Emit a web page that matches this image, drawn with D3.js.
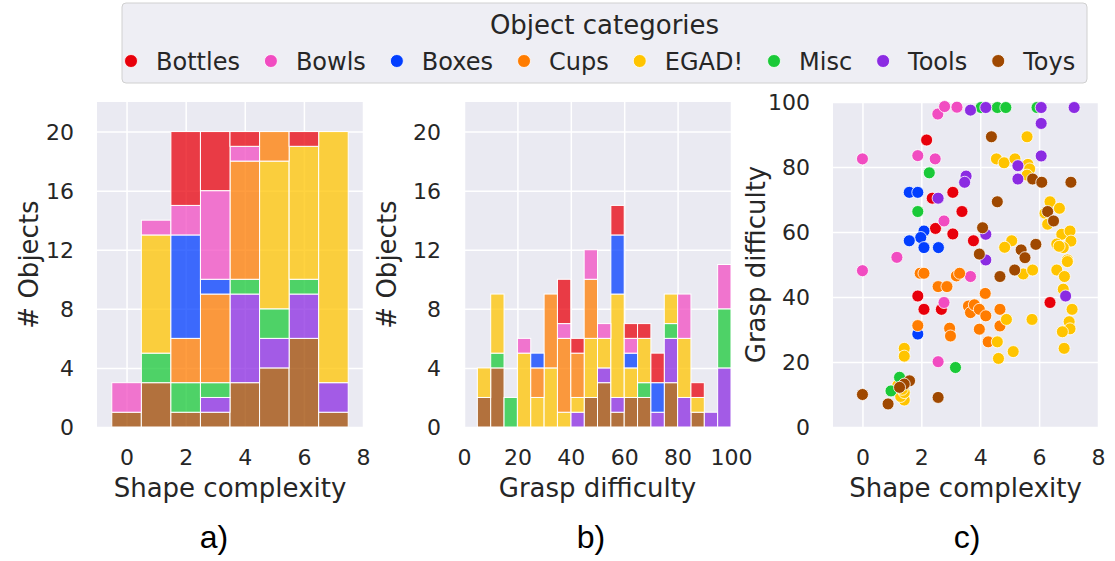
<!DOCTYPE html>
<html>
<head>
<meta charset="utf-8">
<script src="https://cdnjs.cloudflare.com/ajax/libs/d3/7.8.5/d3.min.js"></script>
<style>
  body { margin: 0; background: #fff; }
  text { font-family: 'DejaVu Sans', sans-serif; fill: #262626; }
</style>
</head>
<body>
<svg id="chart" width="1115" height="561"></svg>
<script>

var categories = ['Bottles', 'Bowls', 'Boxes', 'Cups', 'EGAD!', 'Misc', 'Tools', 'Toys']
var colors = ['#e8000b', '#f14cc1', '#023eff', '#ff7c00', '#ffc400', '#1ac938', '#8b2be2', '#9f4800']

// a) shape complexity, one bin per integer 0..7
var shapeBins = [0, 1, 2, 3, 4, 5, 6, 7]
var shapeCounts = [
  [0, 0, 5, 4, 1, 0, 1, 0],   // Bottles
  [2, 1, 2, 6, 1, 0, 0, 0],   // Bowls
  [0, 0, 7, 1, 0, 0, 0, 0],   // Boxes
  [0, 0, 3, 6, 8, 2, 0, 0],   // Cups
  [0, 8, 0, 0, 0, 10, 9, 17], // EGAD!
  [0, 2, 2, 1, 1, 2, 1, 0],   // Misc
  [0, 0, 0, 1, 6, 2, 3, 2],   // Tools
  [1, 3, 1, 1, 3, 4, 6, 1]    // Toys
]

// b) grasp difficulty, bins of 5 starting at these values
var graspBins = [5, 10, 15, 20, 25, 30, 35, 40, 45, 50, 55, 60, 65, 70, 75, 80, 85, 90, 95]
var graspCounts = [
  [0, 0, 0, 0, 0, 0, 3, 1, 0, 0, 2, 1, 1, 2, 0, 0, 1, 0, 0], // Bottles
  [0, 0, 0, 1, 0, 0, 1, 0, 2, 1, 0, 1, 0, 0, 0, 3, 0, 0, 3], // Bowls
  [0, 0, 0, 0, 1, 0, 0, 0, 0, 0, 4, 1, 0, 2, 0, 0, 0, 0, 0], // Boxes
  [0, 0, 0, 0, 2, 5, 5, 3, 4, 0, 0, 0, 0, 0, 0, 0, 0, 0, 0], // Cups
  [2, 4, 0, 5, 2, 4, 1, 1, 4, 2, 7, 2, 3, 0, 2, 4, 1, 0, 0], // EGAD!
  [0, 1, 2, 0, 0, 0, 0, 0, 0, 0, 0, 0, 1, 0, 1, 0, 0, 0, 4], // Misc
  [0, 0, 0, 0, 0, 0, 0, 1, 0, 1, 1, 0, 0, 1, 3, 2, 0, 1, 4], // Tools
  [2, 4, 0, 0, 0, 0, 0, 0, 2, 3, 1, 2, 2, 0, 3, 0, 1, 0, 0]  // Toys
]

// c) [shape complexity, grasp difficulty] per object
var points = [
  // Bottles
  [[2.18, 88.3], [2.37, 70.4], [3.07, 72.2], [3.38, 66.3], [2.48, 61.1], [3.07, 59.4], [3.77, 57.3],
   [1.88, 40.3], [2.09, 36.2], [2.68, 36.2], [6.37, 38.3]],
  // Bowls
  [[2.56, 96.3], [2.79, 98.6], [3.21, 98.4], [0, 82.5], [1.88, 83.5], [2.47, 82.5], [2.77, 63.4],
   [1.17, 52.2], [3.67, 46.3], [0, 48.1], [2.77, 38.3], [2.57, 20.1]],
  // Boxes
  [[1.59, 72.2], [1.88, 72.2], [2.09, 60.3], [1.98, 58.3], [1.59, 57.3], [2.09, 55.2], [2.58, 55.2], [1.88, 28.6]],
  // Cups
  [[1.96, 47.3], [2.09, 47.3], [2.57, 43.2], [2.87, 43.2], [3.19, 46.5], [3.3, 47.3], [3.6, 37.2],
   [3.67, 35.2], [3.8, 37.6], [3.97, 36.2], [4.19, 34.2], [4.67, 36.2], [4.67, 31.1], [3.97, 30.1],
   [4.27, 26.2], [4.17, 41.1], [1.88, 31.2], [2.96, 30.4], [2.99, 28]],
  // EGAD!
  [[5.59, 89.3], [4.55, 82.5], [4.81, 81.3], [5.18, 82.5], [5.62, 80.8], [5.68, 79.4], [5.59, 77.5],
   [6.37, 69.3], [6.2, 65.8], [6.69, 67.3], [6.29, 62.4], [5.07, 57.3], [4.83, 55.3], [6.77, 59.3],
   [7.05, 60.3], [7.08, 57.2], [6.6, 56.3], [6.82, 55.2], [6.68, 55.6], [6.96, 51.4], [5.46, 47.1],
   [5.78, 48.3], [6.6, 48.3], [6.86, 46.3], [6.96, 50.9], [6.82, 42.4], [7.12, 36.2], [7.02, 32.4],
   [7.05, 30.2], [6.79, 29.3], [6.85, 24.2], [4.89, 33.1], [5.76, 33.1], [4.58, 26.2], [5.12, 23.2],
   [4.62, 21.1], [1.42, 24.2], [1.42, 21.8], [1.42, 8.3], [1.3, 9.4], [1.42, 10.6], [1.35, 11.6],
   [1.2, 12.8], [1.45, 13.8]],
  // Misc
  [[2.27, 78.2], [1.88, 66.3], [4.03, 98.3], [4.58, 98.3], [4.87, 98.3], [5.93, 98.3], [3.16, 18.3],
   [1.26, 15.3], [0.97, 11.1]],
  // Tools
  [[3.67, 97.5], [4.19, 98.3], [6.07, 98.3], [7.19, 98.3], [6.07, 93.4], [6.07, 83.4], [3.52, 77.2],
   [3.47, 75.3], [2.57, 70.4], [5.28, 80.4], [5.28, 76.3], [4.19, 59.3], [4.19, 51.4], [6.9, 40.3]],
  // Toys
  [[4.38, 89.3], [5.78, 76.3], [6.09, 75.3], [7.08, 75.3], [4.58, 69.3], [6.29, 66.3], [6.49, 63.4],
   [4.08, 61.3], [5.39, 54.5], [5.52, 52.1], [5.89, 56.2], [3.97, 53.2], [4.67, 46.3], [5.17, 48.3],
   [1.6, 14.2], [1.42, 13.2], [1.26, 12.2], [0, 10], [0.87, 7.1], [2.57, 9.1]]
]

var countTicks = [0, 4, 8, 12, 16, 20]
var shapeTicks = [0, 2, 4, 6, 8]
var graspTicks = [0, 20, 40, 60, 80, 100]


var svg = d3.select('#chart')
var plotTop = 102, plotBottom = 427
var color = d3.scaleOrdinal().domain(categories).range(colors)

function frame(x, y, xTicks, yTicks, xLabel, yLabel, yLabelX){
  var left = x.range()[0], right = x.range()[1]
  svg.append('rect')
    .attr('x', left).attr('y', plotTop)
    .attr('width', right - left).attr('height', plotBottom - plotTop)
    .attr('fill', '#eaeaf2')

  var gx = svg.append('g')
    .attr('transform', 'translate(0,' + plotBottom + ')')
    .call(d3.axisBottom(x).tickValues(xTicks).tickSize(-(plotBottom - plotTop)))
  var gy = svg.append('g')
    .attr('transform', 'translate(' + left + ',0)')
    .call(d3.axisLeft(y).tickValues(yTicks).tickSize(-(right - left)))

  ;[gx, gy].forEach(function(g){
    g.select('.domain').remove()
    g.selectAll('line').attr('stroke', '#fff').attr('stroke-width', 1.5)
    g.selectAll('text').style('font-size', '22px').style('font-family', "'DejaVu Sans', sans-serif").style('fill', '#262626')
  })
  gx.selectAll('text').attr('y', 38).attr('dy', 0)
  gy.selectAll('text').attr('x', -23).attr('dy', '0.36em')

  svg.append('text')
    .attr('x', (left + right) / 2).attr('y', 497)
    .attr('text-anchor', 'middle')
    .style('font-size', '26px')
    .text(xLabel)
  svg.append('text')
    .attr('transform', 'translate(' + yLabelX + ',' + (plotTop + plotBottom) / 2 + ') rotate(-90)')
    .attr('text-anchor', 'middle')
    .style('font-size', '26px')
    .text(yLabel)
}

function stackedHist(x, y, bins, width, counts){
  var rows = bins.map(function(b, i){
    var r = {bin: b}
    categories.forEach(function(c, j){ r[c] = counts[j][i] })
    return r
  })
  // seaborn stacks the last hue level at the bottom
  var series = d3.stack().keys(categories.slice().reverse())(rows)

  svg.append('g').selectAll('g')
    .data(series).join('g')
      .attr('fill', function(s){ return color(s.key) })
      .attr('fill-opacity', 0.75)
    .selectAll('rect')
    .data(function(s){ return s.filter(function(d){ return d[1] > d[0] }) })
    .join('rect')
      .attr('x', function(d){ return x(d.data.bin) })
      .attr('width', function(d){ return x(d.data.bin + width) - x(d.data.bin) })
      .attr('y', function(d){ return y(d[1]) })
      .attr('height', function(d){ return y(d[0]) - y(d[1]) })
      .attr('stroke', '#fff').attr('stroke-width', 1)
}

// a)
var xa = d3.scaleLinear().domain([-1, 8]).range([97, 363])
var ya = d3.scaleLinear().domain([0, 22]).range([plotBottom, plotTop])
frame(xa, ya, shapeTicks, countTicks, 'Shape complexity', '# Objects', 38)
stackedHist(xa, ya, shapeBins.map(function(b){ return b - 0.5 }), 1, shapeCounts)

// b)
var xb = d3.scaleLinear().domain([0, 100]).range([464, 731])
var yb = d3.scaleLinear().domain([0, 22]).range([plotBottom, plotTop])
frame(xb, yb, graspTicks, countTicks, 'Grasp difficulty', '# Objects', 396)
stackedHist(xb, yb, graspBins, 5, graspCounts)

// c)
var xc = d3.scaleLinear().domain([-1, 8]).range([833, 1098])
var yc = d3.scaleLinear().domain([0, 100]).range([plotBottom, plotTop])
frame(xc, yc, shapeTicks, graspTicks, 'Shape complexity', 'Grasp difficulty', 765)

svg.append('g').selectAll('g')
  .data(points).join('g')
    .attr('fill', function(d, i){ return colors[i] })
  .selectAll('circle')
  .data(function(d){ return d }).join('circle')
    .attr('cx', function(d){ return xc(d[0]) })
    .attr('cy', function(d){ return yc(d[1]) })
    .attr('r', 6)
    .attr('stroke', '#fff').attr('stroke-width', 0.8)

// panel letters
;[['a)', 214], ['b)', 591], ['c)', 967]].forEach(function(p){
  svg.append('text')
    .attr('x', p[1]).attr('y', 548)
    .attr('text-anchor', 'middle')
    .style('font-family', "'Liberation Sans', Arial, sans-serif")
    .style('font-size', '32px')
    .style('fill', '#000')
    .text(p[0])
})

// legend
var legend = svg.append('g')
legend.append('rect')
  .attr('x', 122).attr('y', 3).attr('width', 965).attr('height', 80)
  .attr('rx', 4)
  .attr('fill', '#eeeef4').attr('stroke', '#d0d0d0').attr('stroke-width', 1)
legend.append('text')
  .attr('x', 604.5).attr('y', 34)
  .attr('text-anchor', 'middle')
  .style('font-size', '26px')
  .text('Object categories')

var lx = 156
categories.forEach(function(c, i){
  legend.append('circle')
    .attr('cx', lx - 25).attr('cy', 61)
    .attr('r', 6.5)
    .attr('fill', colors[i])
    .attr('stroke', '#fff').attr('stroke-width', 0.8)
  var t = legend.append('text')
    .attr('x', lx).attr('y', 69.5)
    .style('font-size', '24px')
    .text(c)
  lx += t.node().getComputedTextLength() + 56
})

</script>
</body>
</html>
